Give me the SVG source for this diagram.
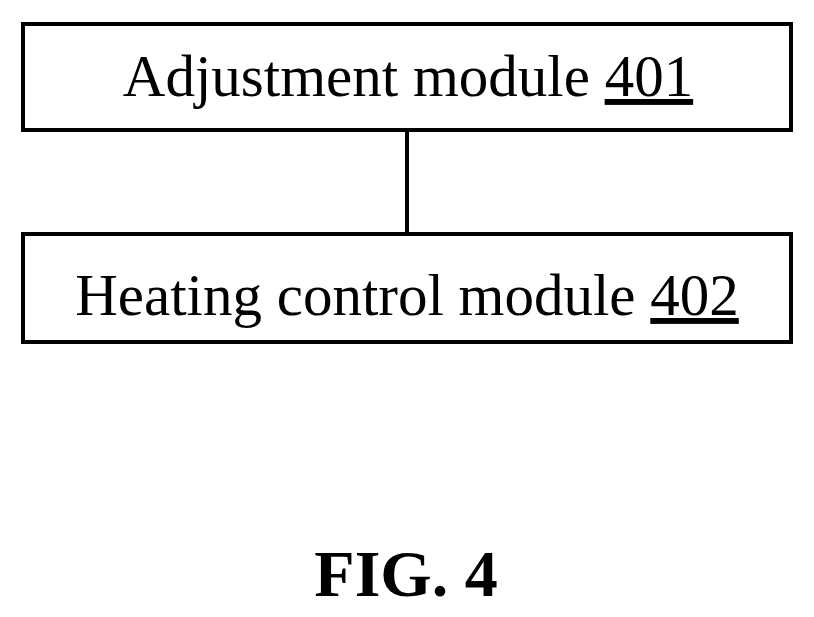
<svg xmlns="http://www.w3.org/2000/svg" width="814" height="617" viewBox="0 0 814 617">
<style>
.box{fill:#fff;stroke:#000;stroke-width:4}
.t{font-family:"Liberation Serif",serif;font-size:59px;text-anchor:middle;fill:#000}
</style>
<rect width="814" height="617" fill="#fff"/>
<g id="connectors"><line x1="407" y1="130" x2="407" y2="234" stroke="#000" stroke-width="4"/></g>
<g id="n401"><rect class="box" x="23" y="24" width="768" height="106"/>
<text class="t" x="408" y="96">Adjustment module <tspan text-decoration="underline">401</tspan></text></g>
<g id="n402"><rect class="box" x="23" y="234" width="768" height="108"/>
<text class="t" x="407" y="315">Heating control module <tspan text-decoration="underline">402</tspan></text></g>
<text x="406" y="596" font-family="Liberation Serif,serif" font-size="66" font-weight="bold" text-anchor="middle">FIG. 4</text>
</svg>
